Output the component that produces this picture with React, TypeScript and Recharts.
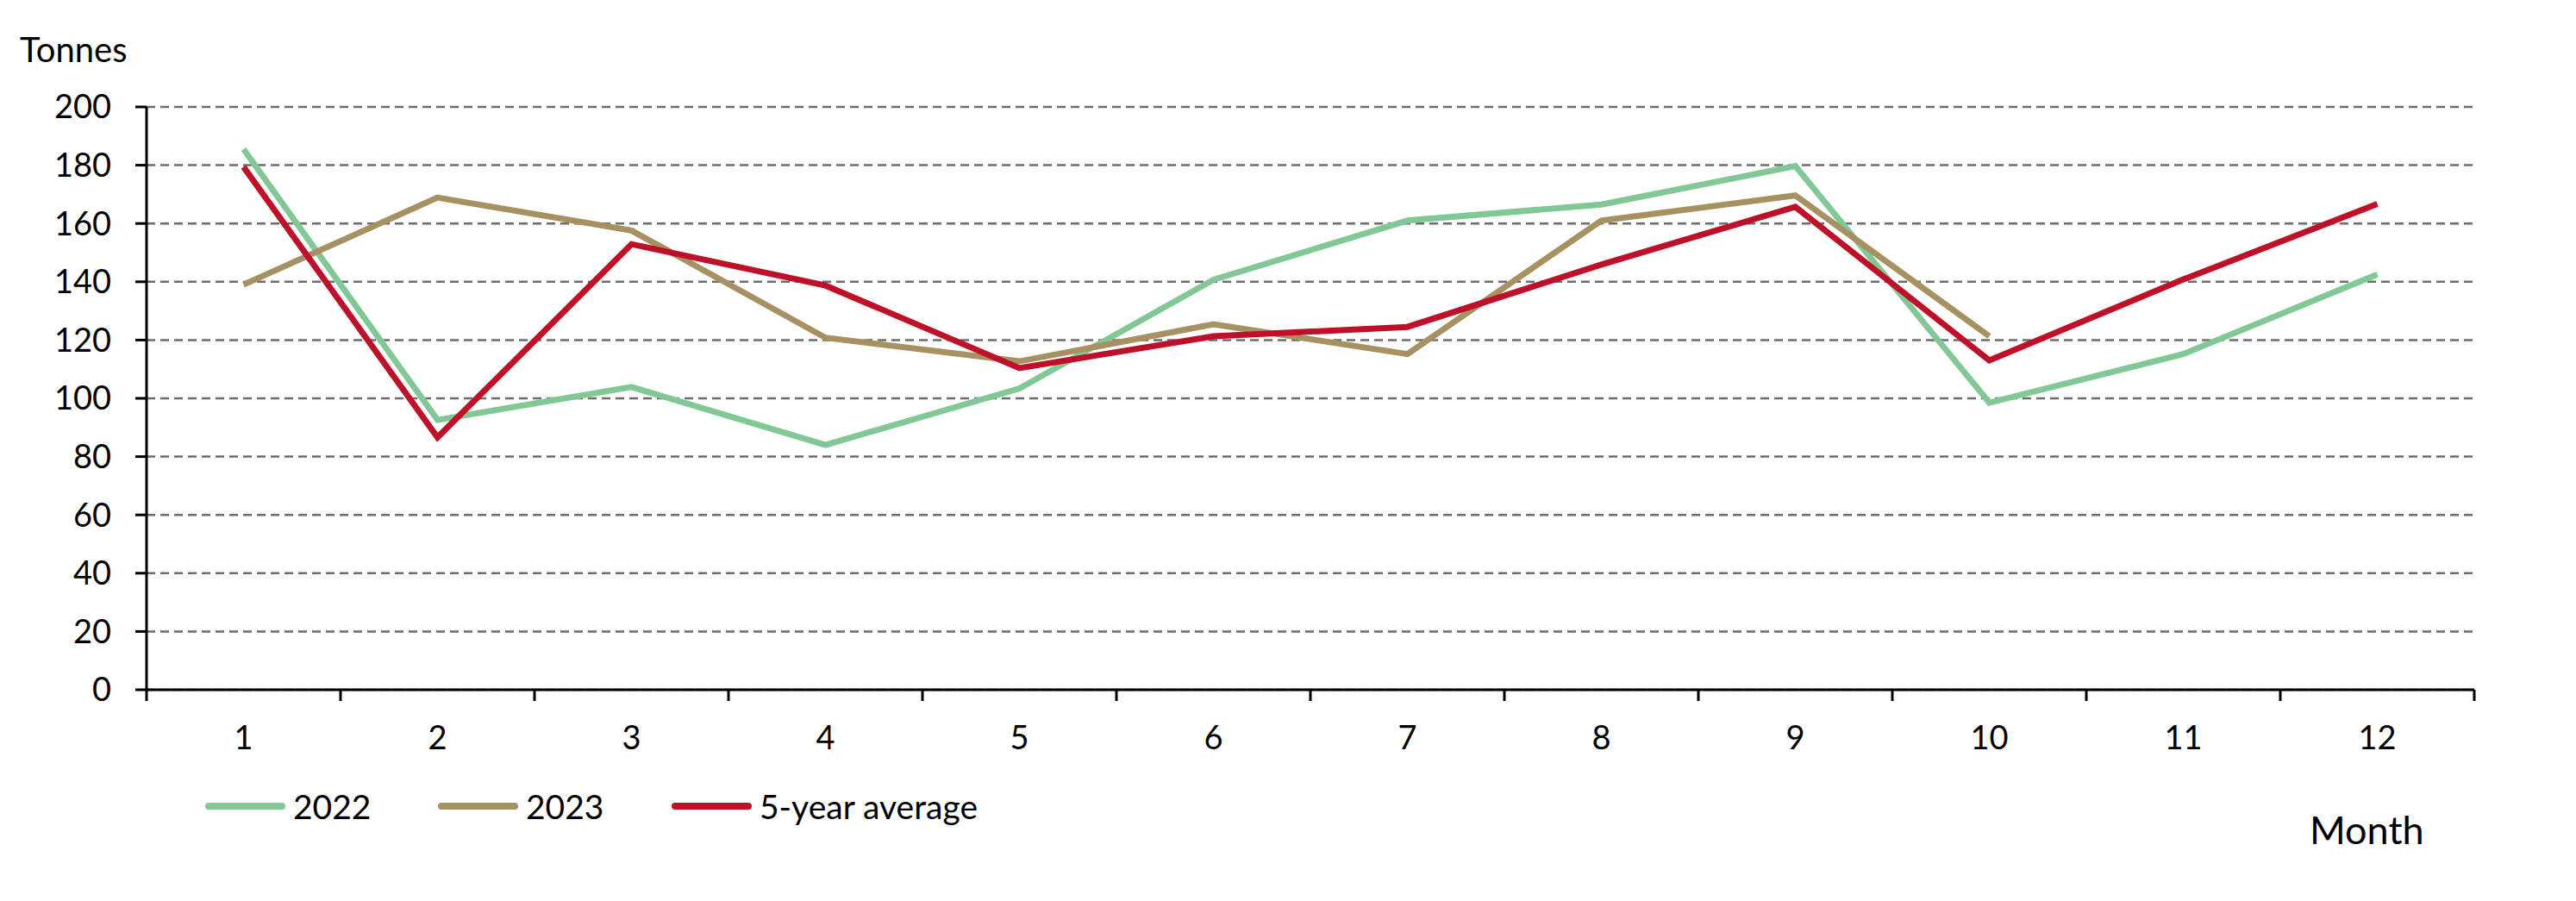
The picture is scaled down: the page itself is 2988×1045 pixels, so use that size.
import React from 'react';
import { LineChart, Line, XAxis, YAxis, CartesianGrid, Legend } from 'recharts';

const months = [1, 2, 3, 4, 5, 6, 7, 8, 9, 10, 11, 12];
const values2022 = [185.5, 92.6, 103.9, 84, 103.4, 140.7, 161, 166.5, 179.7, 98.5, 115.2, 142.5];
const values2023: (number | null)[] = [139, 168.9, 157.6, 120.8, 112.7, 125.4, 115.2, 161, 169.6, 121.3, null, null];
const valuesAvg = [179.4, 86.6, 152.9, 138.7, 110.4, 121.3, 124.5, 145.9, 165.7, 113, 140.8, 166.7];
const yTicks = [0, 20, 40, 60, 80, 100, 120, 140, 160, 180, 200];
const xTicks = [0.5, 1, 1.5, 2, 2.5, 3, 3.5, 4, 4.5, 5, 5.5, 6, 6.5, 7, 7.5, 8, 8.5, 9, 9.5, 10, 10.5, 11, 11.5, 12, 12.5];

const data = months.map((m, i) => ({
  month: m,
  y2022: values2022[i],
  y2023: values2023[i],
  avg: valuesAvg[i],
}));

const FONT = 'Lato, "Noto Sans", sans-serif';

const XTick = (props: any) => {
  const { x, y, payload } = props;
  const v = payload.value;
  if (Number.isInteger(v)) {
    return (
      <text x={x} y={y + 69} textAnchor="middle" fontSize={38} fill="#000" fontFamily={FONT}>
        {v}
      </text>
    );
  }
  return <line x1={x} x2={x} y1={y} y2={y + 13} stroke="#000" strokeWidth={3} />;
};

const renderLegend = (props: any) => {
  const { payload } = props;
  const widths = [270, 271, 420];
  return (
    <div style={{ display: 'flex', alignItems: 'center', height: 44, fontFamily: FONT }}>
      {payload.map((entry: any, i: number) => (
        <div key={entry.value} style={{ display: 'flex', alignItems: 'center', width: widths[i] }}>
          <svg width={93} height={10} style={{ display: 'block' }}>
            <line x1={4} x2={89} y1={5} y2={5} stroke={entry.color} strokeWidth={8} strokeLinecap="round" />
          </svg>
          <span style={{ marginLeft: 9, fontSize: 39, color: '#000', lineHeight: '44px' }}>{entry.value}</span>
        </div>
      ))}
    </div>
  );
};

const TonnesLabel = () => (
  <text x={15} y={64} fontSize={40} fill="#000" fontFamily={FONT}>
    Tonnes
  </text>
);

const MonthLabel = () => (
  <text x={2671} y={971} fontSize={45} fill="#000" fontFamily={FONT}>
    Month
  </text>
);

export default function App() {
  return (
    <div style={{ width: 2960, height: 1030, fontFamily: FONT, background: '#fff' }}>
      <LineChart
        width={2960}
        height={1030}
        data={data}
        margin={{ top: 116, right: 98, left: 62, bottom: 178 }}
      >
        <CartesianGrid vertical={false} stroke="#6e6e6e" strokeDasharray="10 6" strokeWidth={2.5} />
        <XAxis
          dataKey="month"
          type="number"
          domain={[0.5, 12.5]}
          ticks={xTicks}
          interval={0}
          tickLine={false}
          tickSize={0}
          tickMargin={0}
          tick={<XTick />}
          axisLine={{ stroke: '#000', strokeWidth: 3 }}
          height={60}
          allowDecimals
          label={MonthLabel}
        />
        <YAxis
          domain={[0, 200]}
          ticks={yTicks}
          interval={0}
          width={100}
          tickSize={13}
          tickMargin={28}
          tick={{ fontSize: 38, fill: '#000', fontFamily: FONT }}
          tickLine={{ stroke: '#000', strokeWidth: 3 }}
          axisLine={{ stroke: '#000', strokeWidth: 3 }}
          label={TonnesLabel}
        />
        <Legend
          verticalAlign="bottom"
          align="left"
          content={renderLegend}
          wrapperStyle={{ top: 905, left: 230, height: 0, width: 1200, bottom: 'auto' }}
        />
        <Line
          type="linear"
          dataKey="y2022"
          name="2022"
          stroke="#82c896"
          strokeWidth={7}
          dot={false}
          isAnimationActive={false}
        />
        <Line
          type="linear"
          dataKey="y2023"
          name="2023"
          stroke="#a69162"
          strokeWidth={7}
          dot={false}
          isAnimationActive={false}
        />
        <Line
          type="linear"
          dataKey="avg"
          name="5-year average"
          stroke="#be1028"
          strokeWidth={7}
          dot={false}
          isAnimationActive={false}
        />
      </LineChart>
    </div>
  );
}
